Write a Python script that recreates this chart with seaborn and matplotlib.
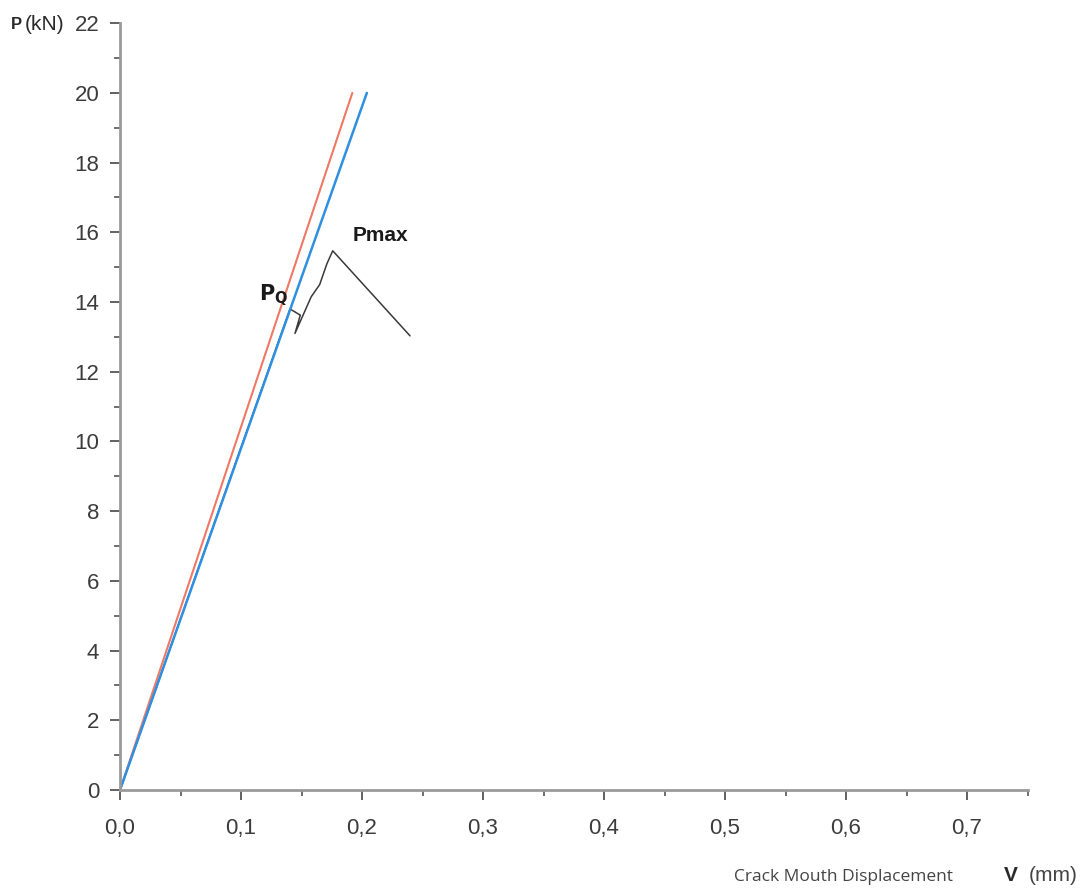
import matplotlib
matplotlib.use("Agg")
import matplotlib.pyplot as plt
from matplotlib.ticker import MultipleLocator, FuncFormatter
import seaborn as sns
import pandas as pd

# Load - CMOD curves
red_v = [0.0, 0.192]
red_p = [0.0, 20.0]
blue_v = [0.0, 0.204]
blue_p = [0.0, 20.0]
test_v = [0.0, 0.1405, 0.149, 0.1446, 0.149, 0.158, 0.165, 0.171, 0.1758, 0.2397]
test_p = [0.0, 13.8, 13.65, 13.1, 13.6, 14.15, 14.5, 15.1, 15.47, 13.03]

sns.set_theme(style="white")
plt.rcParams["font.family"] = ["Liberation Sans", "DejaVu Sans"]

fig = plt.figure(figsize=(10.83, 8.92), dpi=100)
ax = fig.add_axes([0.1108, 0.1143, 0.838, 0.8597])

df_red = pd.DataFrame({"v": red_v, "p": red_p})
df_blue = pd.DataFrame({"v": blue_v, "p": blue_p})
df_test = pd.DataFrame({"v": test_v, "p": test_p})

# measured curve underneath, the two secant lines on top
sns.lineplot(data=df_test, x="v", y="p", ax=ax, color="#3a3a3a", lw=1.1, sort=False)
sns.lineplot(data=df_red, x="v", y="p", ax=ax, color="#f07866", lw=1.5, sort=False)
sns.lineplot(data=df_blue, x="v", y="p", ax=ax, color="#2f8fe0", lw=1.8, sort=False)

ax.set_xlim(0, 0.75)
ax.set_ylim(0, 22)
ax.set_xlabel("")
ax.set_ylabel("")

for side in ["top", "right"]:
    ax.spines[side].set_visible(False)
for side in ["left", "bottom"]:
    ax.spines[side].set_color("#9a9a9a")
    ax.spines[side].set_linewidth(2.0)

ax.xaxis.set_major_locator(MultipleLocator(0.1))
ax.xaxis.set_minor_locator(MultipleLocator(0.05))
ax.yaxis.set_major_locator(MultipleLocator(2))
ax.yaxis.set_minor_locator(MultipleLocator(1))
ax.xaxis.set_major_formatter(FuncFormatter(lambda x, _: f"{x:.1f}".replace(".", ",")))
ax.yaxis.set_major_formatter(FuncFormatter(lambda y, _: f"{y:.0f}"))

ax.tick_params(which="major", direction="out", length=7, width=1.3,
               color="#555555", labelsize=16, labelcolor="#3c3c3c",
               bottom=True, left=True)
ax.tick_params(axis="x", which="major", pad=13)
ax.tick_params(axis="y", which="major", pad=8)
ax.tick_params(which="minor", direction="out", length=4, width=1.2,
               color="#555555", bottom=True, left=True)

ax.text(0.192, 15.9, "Pmax", fontsize=15, fontweight="bold", color="#1a1a1a",
        ha="left", va="center")
ax.text(0.115, 14.2, r"$\mathbf{P}_{\mathbf{Q}}$", fontsize=15, color="#1a1a1a",
        ha="left", va="center")

fig.text(0.010, 0.972, "P", fontsize=12, fontweight="bold", color="#2a2a2a",
         ha="left", va="center")
fig.text(0.023, 0.972, "(kN)", fontsize=15, color="#2a2a2a", ha="left", va="center")

fig.text(0.779, 0.017, "Crack Mouth Displacement", fontsize=12.5, color="#444444",
         family=["Open Sans", "DejaVu Sans"], ha="center", va="center")
fig.text(0.927, 0.018, "V", fontsize=15, fontweight="bold", color="#2a2a2a",
         ha="left", va="center")
fig.text(0.950, 0.018, "(mm)", fontsize=15, color="#444444", ha="left", va="center")

fig.savefig("out.png", dpi=100, facecolor="white")
